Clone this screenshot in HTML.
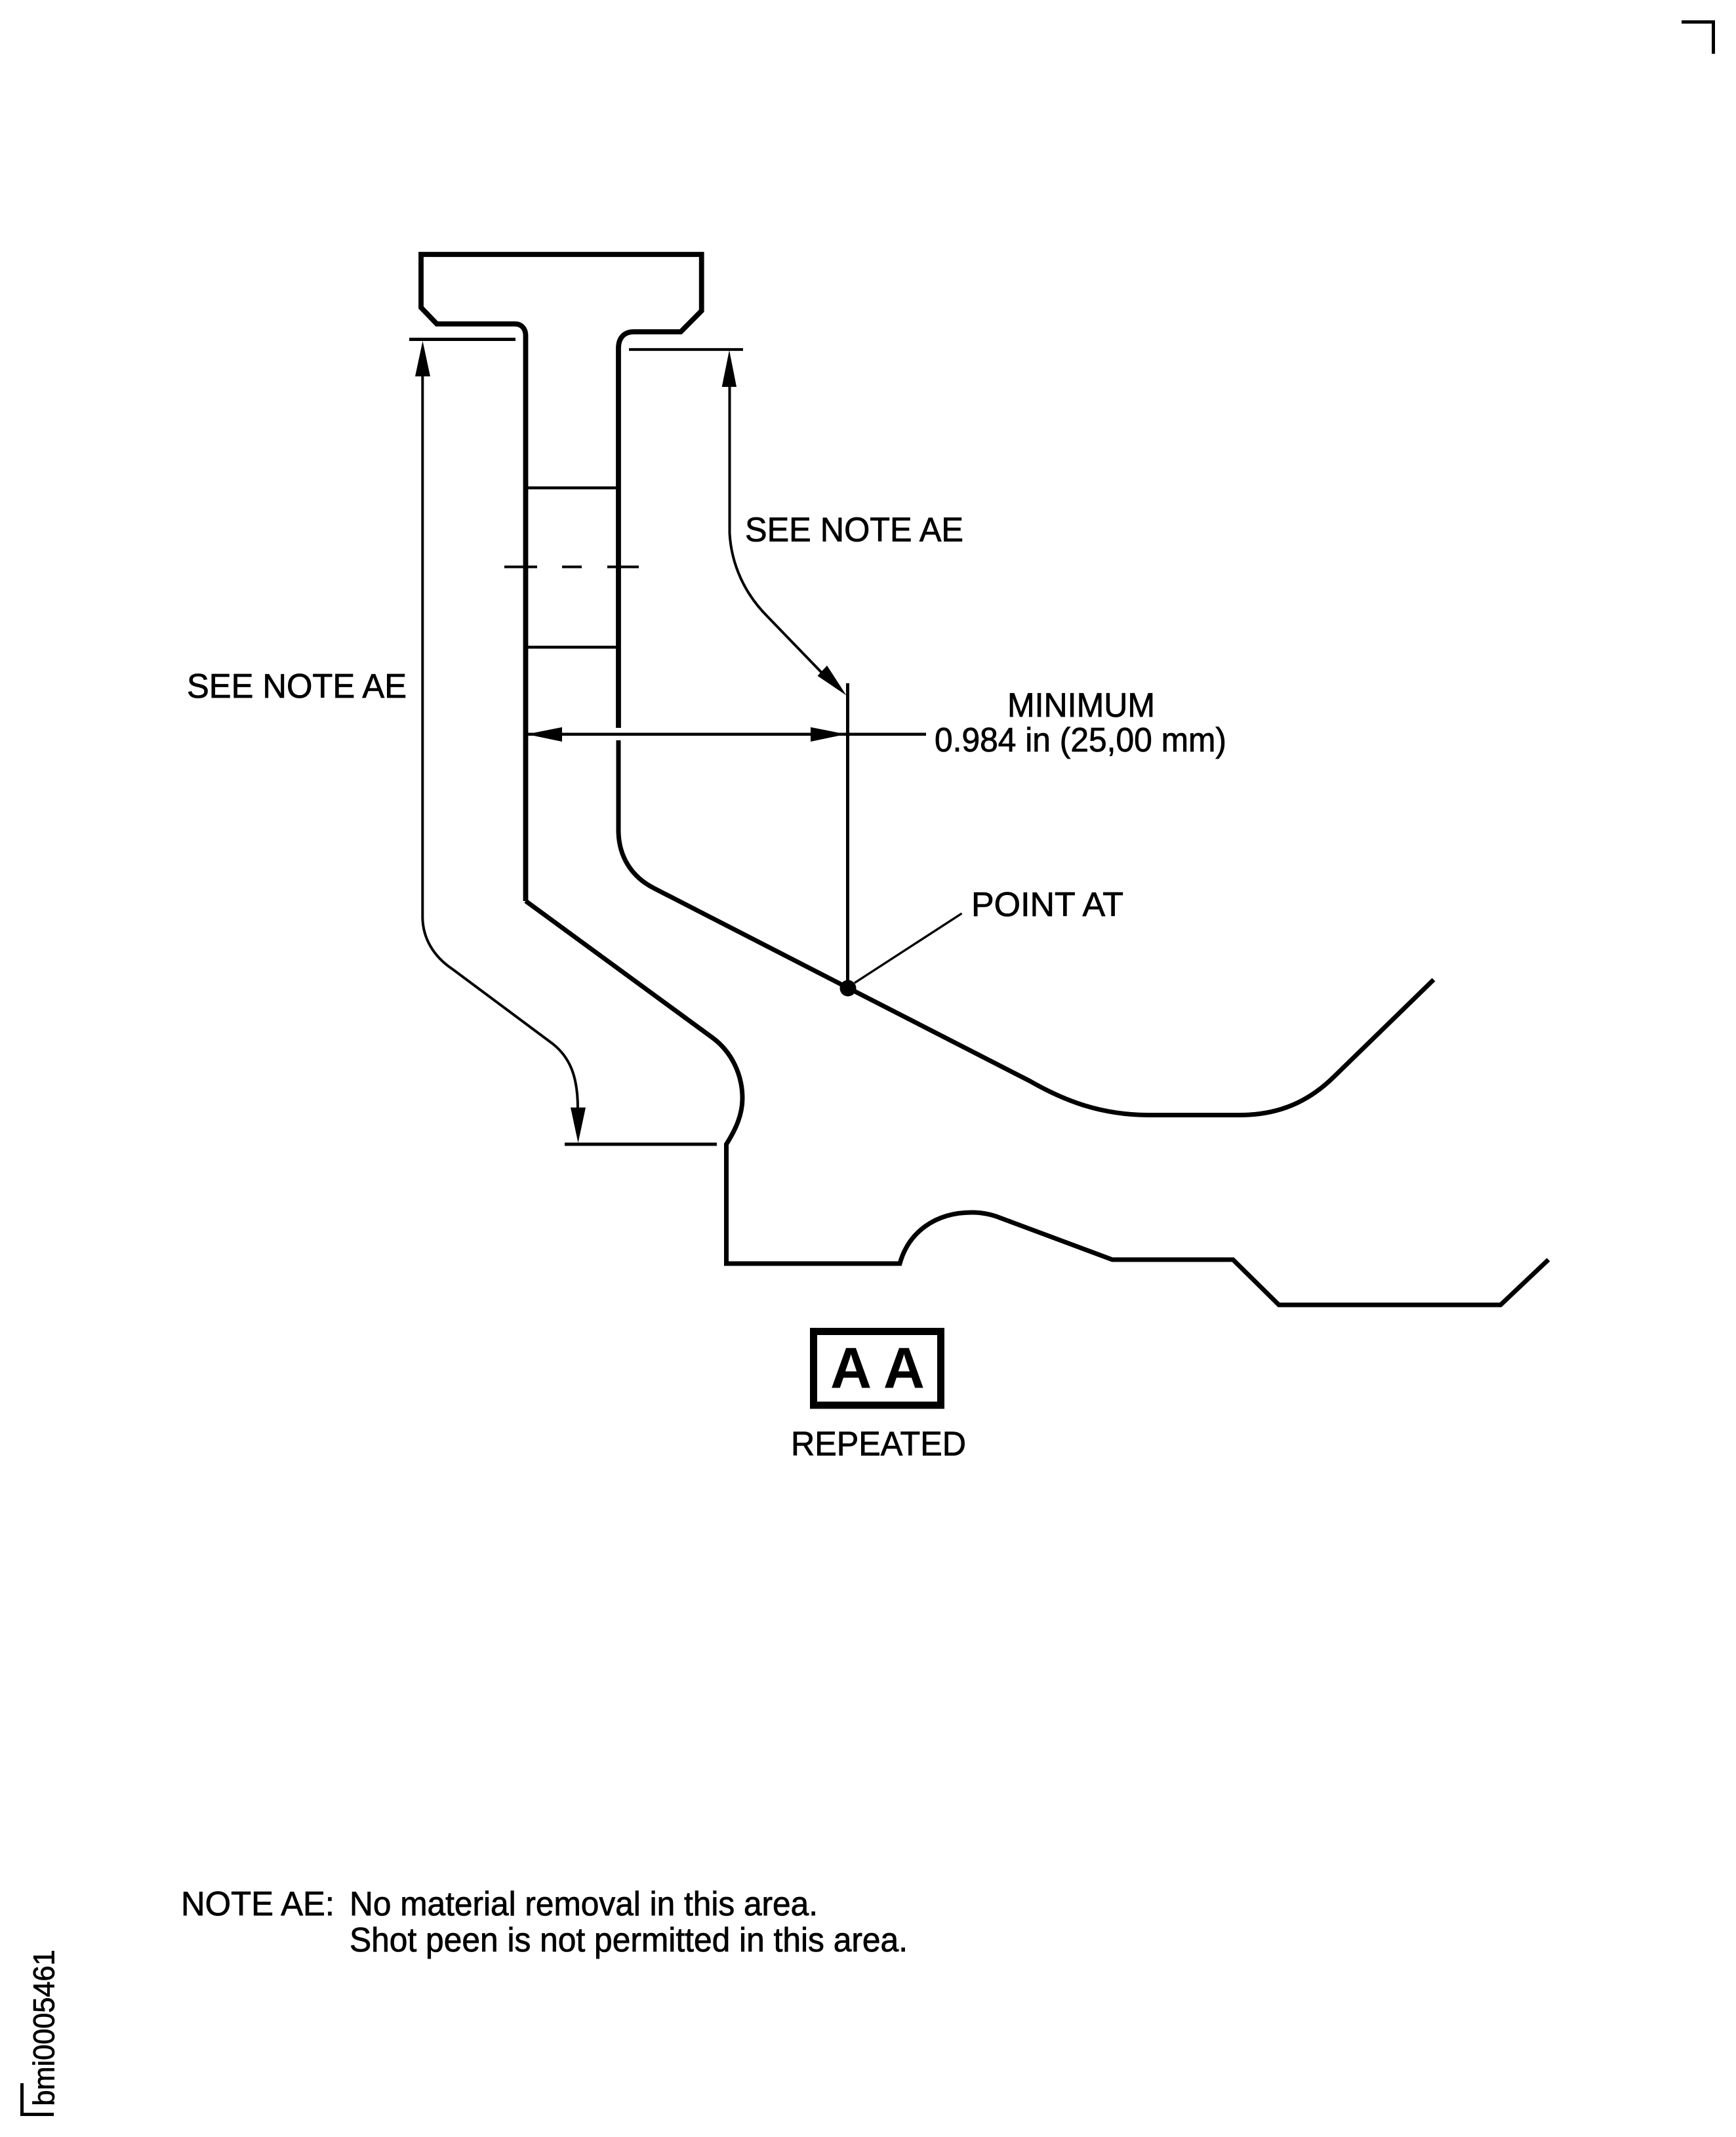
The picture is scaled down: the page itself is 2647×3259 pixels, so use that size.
<!DOCTYPE html>
<html>
<head>
<meta charset="utf-8">
<style>
html,body{margin:0;padding:0;background:#fff;}
svg{display:block;}
text{font-family:"Liberation Sans",Arial,sans-serif;fill:#000;stroke:#000;stroke-width:.8;}
</style>
</head>
<body>
<svg xmlns="http://www.w3.org/2000/svg" width="2647" height="3259" viewBox="0 0 2647 3259">
<rect width="2647" height="3259" fill="#fff"/>

<!-- corner marks -->
<path d="M2564 33.5H2612.5V82" fill="none" stroke="#000" stroke-width="5"/>
<path d="M33.5 3177V3224.5H82" fill="none" stroke="#000" stroke-width="5"/>

<!-- part profile -->
<g fill="none" stroke="#000" stroke-width="7" stroke-linejoin="miter" stroke-linecap="butt">
  <path d="M801.5 1374V512C801.5 502 796 494 785 494H666L642 469V388H1069.7V474L1038 506H966C952 506 943 515 943 531V1110" stroke-width="7.8"/>
  <path d="M943 1129V1266C943 1305 962 1337 998 1355L1292 1506L1571 1649C1625 1680 1680 1700 1750 1700.5H1890C1950 1700.5 1995 1680 2033 1643L2186 1494"/>
  <path d="M801.5 1374L1087 1583C1115 1604 1132 1638 1132 1675C1132 1700 1122 1722 1107.5 1745V1927H1372C1385 1880 1425 1849 1482 1849C1495 1849 1510 1851 1527 1858L1696 1921H1880L1950 1990H2288L2361 1921"/>
</g>

<!-- extension lines -->
<g fill="none" stroke="#000" stroke-width="5">
  <path d="M624 517.5H786"/>
  <path d="M959 533H1133" stroke-width="4.2"/>
  <path d="M861 1745H1093"/>
</g>

<!-- section lines -->
<g fill="none" stroke="#000" stroke-width="4.5">
  <path d="M801 744H943"/>
  <path d="M801 987H943"/>
  <path d="M769 864.5H819M857 864.5H887M926 864.5H974" stroke-width="4"/>
  <path d="M1292.5 1042V1506" stroke-width="5"/>
  <path d="M805 1119.7H1412"/>
</g>

<!-- leaders -->
<g fill="none" stroke="#000" stroke-width="4">
  <path d="M644.3 573V1400C645 1430 660 1458 690 1478L843 1592C868 1612 881 1640 881 1690"/>
  <path d="M1112.5 590V813C1115 860 1135 905 1170 940L1255 1028"/>
  <path d="M1303 1499L1466.5 1393" stroke-width="3.4"/>
</g>

<!-- arrowheads -->
<g fill="#000" stroke="none">
  <path d="M644.5 520L656 574H633Z"/>
  <path d="M1112 534L1123 590H1100.7Z"/>
  <path d="M881.5 1743L870 1689H893Z"/>
  <path d="M803 1119.7L857 1109V1131Z"/>
  <path d="M1290 1119.7L1236 1109V1131Z"/>
  <path d="M1290.5 1060.5L1246.5 1030.7L1261 1015Z"/>
  <circle cx="1293" cy="1507" r="12.5"/>
</g>

<!-- section box -->
<rect x="1240.5" y="2030.5" width="194" height="112.5" fill="none" stroke="#000" stroke-width="11"/>
<text x="1266" y="2116.7" font-size="88" font-weight="bold" textLength="144" lengthAdjust="spacingAndGlyphs" style="stroke:none">A A</text>

<!-- labels -->
<text x="1136" y="825.5" font-size="52" textLength="333" lengthAdjust="spacingAndGlyphs">SEE NOTE AE</text>
<text x="285" y="1064" font-size="52" textLength="335" lengthAdjust="spacingAndGlyphs">SEE NOTE AE</text>
<text x="1536" y="1093" font-size="52" textLength="225" lengthAdjust="spacingAndGlyphs">MINIMUM</text>
<text x="1425" y="1146" font-size="52" textLength="445" lengthAdjust="spacingAndGlyphs">0.984 in (25,00 mm)</text>
<text x="1481" y="1397" font-size="52" textLength="232" lengthAdjust="spacingAndGlyphs">POINT AT</text>
<text x="1206" y="2219.5" font-size="52" textLength="267" lengthAdjust="spacingAndGlyphs">REPEATED</text>
<text x="276" y="2921" font-size="52" textLength="234" lengthAdjust="spacingAndGlyphs">NOTE AE:</text>
<text x="533" y="2921" font-size="52" textLength="714" lengthAdjust="spacingAndGlyphs">No material removal in this area.</text>
<text x="533" y="2976" font-size="52" textLength="851" lengthAdjust="spacingAndGlyphs">Shot peen is not permitted in this area.</text>
<text transform="translate(82.7 3211.5) rotate(-90)" x="0" y="0" font-size="45" textLength="238" lengthAdjust="spacingAndGlyphs">bmi0005461</text>
</svg>
</body>
</html>
